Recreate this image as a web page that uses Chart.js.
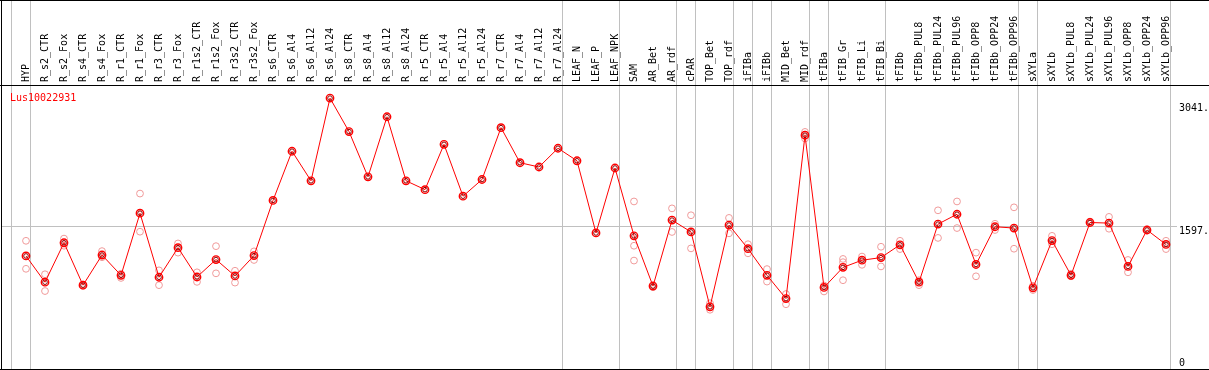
<!DOCTYPE html>
<html>
<head>
<meta charset="utf-8">
<script src="https://cdn.jsdelivr.net/npm/chart.js@4.4.1/dist/chart.umd.min.js"></script>
<style>
  html, body { margin: 0; padding: 0; background: #fff; }
  #wrap { width: 1209px; height: 370px; position: relative; }
</style>
</head>
<body>
<div id="wrap"><canvas id="chart"></canvas></div>
<script>
const probe = 'Lus10022931';

const samples = ['HYP', 'R_s2_CTR', 'R_s2_Fox', 'R_s4_CTR', 'R_s4_Fox', 'R_r1_CTR', 'R_r1_Fox',
  'R_r3_CTR', 'R_r3_Fox', 'R_r1s2_CTR', 'R_r1s2_Fox', 'R_r3s2_CTR', 'R_r3s2_Fox', 'R_s6_CTR',
  'R_s6_Al4', 'R_s6_Al12', 'R_s6_Al24', 'R_s8_CTR', 'R_s8_Al4', 'R_s8_Al12', 'R_s8_Al24',
  'R_r5_CTR', 'R_r5_Al4', 'R_r5_Al12', 'R_r5_Al24', 'R_r7_CTR', 'R_r7_Al4', 'R_r7_Al12', 'R_r7_Al24',
  'LEAF_N', 'LEAF_P', 'LEAF_NPK', 'SAM', 'AR_Bet', 'AR_rdf', 'cPAR', 'TOP_Bet', 'TOP_rdf',
  'iFIBa', 'iFIBb', 'MID_Bet', 'MID_rdf', 'tFIBa', 'tFIB_Gr', 'tFIB_Li', 'tFIB_Bi', 'tFIBb',
  'tFIBb_PUL8', 'tFIBb_PUL24', 'tFIBb_PUL96', 'tFIBb_OPP8', 'tFIBb_OPP24', 'tFIBb_OPP96',
  'sXYLa', 'sXYLb', 'sXYLb_PUL8', 'sXYLb_PUL24', 'sXYLb_PUL96', 'sXYLb_OPP8', 'sXYLb_OPP24', 'sXYLb_OPP96'];

// mean expression per sample
const means = [1241, 933, 1396, 898, 1252, 1014, 1743, 991, 1338, 994, 1199, 1006, 1245, 1893,
  2471, 2124, 3095, 2702, 2170, 2876, 2124, 2020, 2552, 1943, 2139, 2748, 2336, 2286, 2506,
  2359, 1511, 2274, 1477, 887, 1662, 1523, 644, 1604, 1326, 1014, 740, 2659, 871, 1107, 1191,
  1222, 1372, 933, 1615, 1731, 1141, 1584, 1569, 867, 1422, 1014, 1634, 1627, 1118, 1546, 1376];

// single replicates (null = no replicate shown)
const rep1 = [1419, 1026, 1445, 905, 1298, 1033, 1974, 1072, 1388, 1049, 1356, 1067, 1295,
  null, null, null, null, null, null, null, null, null, null, null, null, null, null, null, null, null, null, null,
  1881, 900, 1800, 1719, 686, 1688, 1379, 1087, 794, 2698, 894, 1206, 1234, 1349, 1419, 956,
  1777, 1881, 1280, 1619, 1812, 890, 1477, 1033, 1645, 1700, 1194, 1552, 1419];
const rep2 = [1090, 829, 1361, 890, 1226, 983, 1526, 898, 1280, 937, 1037, 928, 1194,
  null, null, null, null, null, null, null, null, null, null, null, null, null, null, null, null, null, null, null,
  1361, 875, 1523, 1330, 609, 1507, 1272, 940, 674, 2621, 824, 1168, 1137, 1118, 1322, 898,
  1453, 1569, 1002, 1546, 1326, 841, 1379, 1002, 1625, 1561, 1049, 1540, 1322];
const rep3 = [null, null, null, null, null, null, null, null, null, null, null, null, null,
  null, null, null, null, null, null, null, null, null, null, null, null, null, null, null, null, null, null, null,
  1187, null, null, null, null, null, null, null, null, null, null, 956, null, null, null, null,
  null, null, null, null, null, null, null, null, null, null, null, null, null];

const yTicks = [0, 1597, 3041];
const refLine = 1597;
// index of the last sample in each group, separator drawn just after it
const groupEnds = [-1, 0, 28, 31, 34, 35, 37, 38, 39, 41, 42, 45, 52, 53, 60];

const mono = 'DejaVu Sans Mono';

const frame = {
  id: 'frame',
  beforeDatasetsDraw(chart) {
    const { ctx, scales: { x, y } } = chart;
    const h = chart.height;
    const x0 = x.getPixelForValue(0);
    const step = x.getPixelForValue(1) - x0;
    ctx.save();
    ctx.strokeStyle = '#c0c0c0';
    ctx.lineWidth = 1;
    ctx.beginPath();
    groupEnds.forEach(i => {
      const px = Math.floor(x0 + step * i + 4.5) + 0.5;
      ctx.moveTo(px, 0);
      ctx.lineTo(px, h);
    });
    const py = Math.round(y.getPixelForValue(refLine)) + 0.5;
    ctx.moveTo(1, py);
    ctx.lineTo(1177, py);
    ctx.stroke();
    ctx.restore();
  },
  afterDraw(chart) {
    const { ctx, scales: { y } } = chart;
    const w = chart.width, h = chart.height;
    ctx.save();
    ctx.fillStyle = '#000';
    ctx.fillRect(0, 0, w, 1);
    ctx.fillRect(0, 85, w, 1);
    ctx.fillRect(0, h - 1, w, 1);
    ctx.fillRect(1, 0, 1, h);
    ctx.font = '10px "' + mono + '"';
    ctx.textAlign = 'left';
    ctx.textBaseline = 'alphabetic';
    yTicks.forEach(v => {
      const py = y.getPixelForValue(v);
      const label = v === 0 ? '0' : v + '.';
      ctx.fillText(label, 1179, Math.min(py + 8, 365.5));
    });
    ctx.fillStyle = '#ff0000';
    ctx.fillText(probe, 10, 101);
    ctx.restore();
  }
};

new Chart(document.getElementById('chart'), {
  type: 'line',
  data: {
    labels: samples,
    datasets: [
      {
        data: means,
        order: 1,
        borderColor: '#ff0000',
        borderWidth: 1,
        tension: 0,
        pointRadius: 3.7,
        pointBorderWidth: 1.4,
        pointBorderColor: '#ff0000',
        pointBackgroundColor: 'rgba(0,0,0,0)'
      },
      {
        data: means,
        order: 0,
        showLine: false,
        pointRadius: 2.3,
        pointBorderWidth: 1,
        pointBorderColor: '#900000',
        pointBackgroundColor: 'rgba(0,0,0,0)'
      },
      ...[rep1, rep2, rep3].map(r => ({
        data: r,
        order: 2,
        showLine: false,
        pointRadius: 3.4,
        pointBorderWidth: 1,
        pointBorderColor: '#f09a9a',
        pointBackgroundColor: 'rgba(0,0,0,0)'
      }))
    ]
  },
  options: {
    responsive: true,
    maintainAspectRatio: false,
    animation: false,
    events: [],
    layout: { padding: { left: 16.5, right: 33.5, top: 0, bottom: 1 } },
    plugins: { legend: { display: false }, tooltip: { enabled: false } },
    scales: {
      x: {
        type: 'category',
        position: 'top',
        offset: true,
        grid: { display: false, drawTicks: false },
        border: { display: false },
        ticks: {
          autoSkip: false,
          minRotation: 90,
          maxRotation: 90,
          padding: 3,
          labelOffset: 12,
          color: '#000',
          font: { family: mono, size: 10 }
        },
        afterFit(scale) { scale.height = 85; }
      },
      y: {
        display: false,
        min: -35,
        max: 3249
      }
    }
  },
  plugins: [frame]
});
</script>
</body>
</html>
